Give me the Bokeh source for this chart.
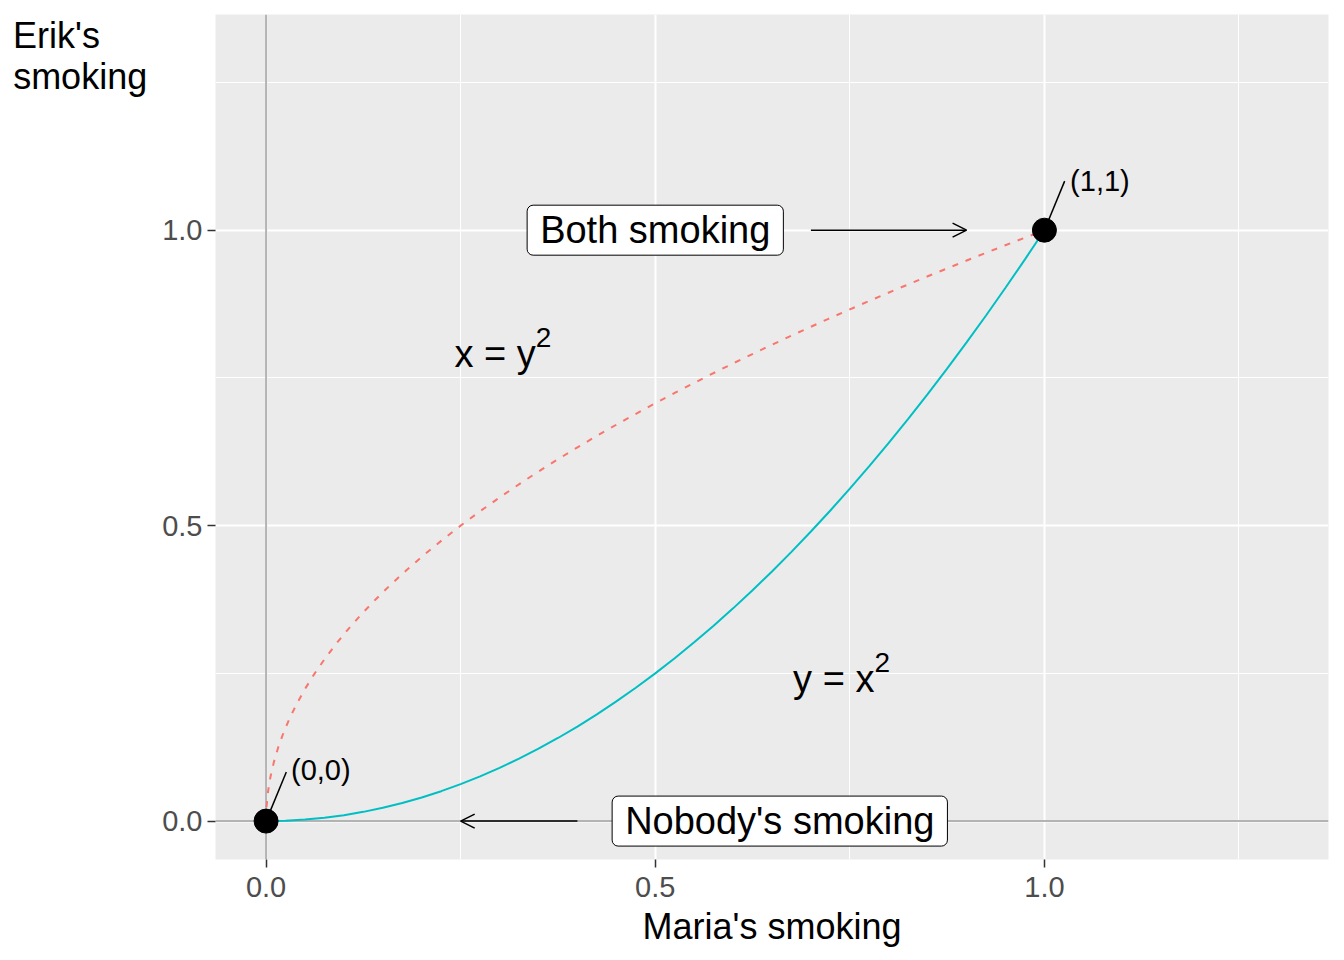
from bokeh.plotting import figure
from bokeh.models import (Range1d, FixedTicker, PrintfTickFormatter, Span, Label,
                          Arrow, OpenHead)
from bokeh.embed import file_html
from bokeh.resources import INLINE

FONT = "Liberation Sans"
CYAN = "#00BFC4"
RED = "#F8766D"

# values (t and t squared)
t_vals = [0.0, 0.025, 0.05, 0.075, 0.1, 0.125, 0.15, 0.175, 0.2, 0.225, 0.25,
          0.275, 0.3, 0.325, 0.35, 0.375, 0.4, 0.425, 0.45, 0.475, 0.5,
          0.525, 0.55, 0.575, 0.6, 0.625, 0.65, 0.675, 0.7, 0.725, 0.75,
          0.775, 0.8, 0.825, 0.85, 0.875, 0.9, 0.925, 0.95, 0.975, 1.0]
t_sq = [0.0, 0.000625, 0.0025, 0.005625, 0.01, 0.015625, 0.0225, 0.030625, 0.04,
        0.050625, 0.0625, 0.075625, 0.09, 0.105625, 0.1225, 0.140625, 0.16,
        0.180625, 0.2025, 0.225625, 0.25, 0.275625, 0.3025, 0.330625, 0.36,
        0.390625, 0.4225, 0.455625, 0.49, 0.525625, 0.5625, 0.600625, 0.64,
        0.680625, 0.7225, 0.765625, 0.81, 0.855625, 0.9025, 0.950625, 1.0]

# the two marked points and their repelled labels
pt_x = [0, 1]
pt_y = [0, 1]
pt_text = ["(0,0)", "(1,1)"]
pt_lab_x = [0.032, 1.033]
pt_lab_y = [0.086, 1.084]
pt_seg_x = [0.026, 1.026]
pt_seg_y = [0.083, 1.083]

# boxed labels and their arrows
box_text = ["Both smoking", "Nobody's smoking"]
box_x = [0.5, 0.66]
box_y = [1.0, 0.0]
arrow_x0 = [0.7, 0.4]
arrow_x1 = [0.9, 0.25]
arrow_y = [1.0, 0.0]

# curve formulas (base, superscript) and where they sit
eq_base = ["x = y", "y = x"]
eq_sup = ["2", "2"]
eq_x = [0.308, 0.743]
eq_y = [0.79, 0.24]

ticks = [0.0, 0.5, 1.0]
minor = [0.25, 0.75, 1.25]

p = figure(width=1336, height=952, output_backend="svg", toolbar_location=None,
           x_range=Range1d(-0.065, 1.365), y_range=Range1d(-0.065, 1.365),
           min_border_left=215, min_border_right=8, min_border_top=14,
           min_border_bottom=93)
p.background_fill_color = "#EBEBEB"
p.border_fill_color = "white"
p.outline_line_color = None

xt = FixedTicker(ticks=ticks, minor_ticks=minor)
yt = FixedTicker(ticks=ticks, minor_ticks=minor)
p.xaxis.ticker = xt
p.yaxis.ticker = yt
p.xgrid.ticker = xt
p.ygrid.ticker = yt
for g in (p.xgrid, p.ygrid):
    g.grid_line_color = "white"
    g.grid_line_width = 2
    g.minor_grid_line_color = "white"
    g.minor_grid_line_width = 1

for ax in (p.xaxis, p.yaxis):
    ax.formatter = PrintfTickFormatter(format="%.1f")
    ax.axis_line_color = None
    ax.minor_tick_line_color = None
    ax.major_tick_line_color = "#333333"
    ax.major_tick_line_width = 1.5
    ax.major_tick_in = 0
    ax.major_tick_out = 8
    ax.major_label_text_font = FONT
    ax.major_label_text_font_size = "29px"
    ax.major_label_text_color = "#4D4D4D"
    ax.major_label_standoff = 5
    ax.axis_label_text_font = FONT
    ax.axis_label_text_font_size = "36px"
    ax.axis_label_text_font_style = "normal"
    ax.axis_label_text_color = "black"
p.xaxis.major_label_standoff = 9

p.xaxis.axis_label = "Maria's smoking"
p.xaxis.axis_label_standoff = 6

# y title: horizontal, two lines, up at the top of the axis; the label is
# centred on the frame top, so two empty lines push the text down below it,
# and the lines come out right aligned, so "Erik's" is padded to the left edge
yax = p.yaxis[0]
yax.axis_label = "\n\nErik's\u00a0\u00a0\u00a0\u00a0\u2009\nsmoking"
yax.axis_label_orientation = "horizontal"
yax.axis_label_standoff = 12
yax.axis_label_text_align = "left"
yax.axis_label_text_line_height = 1.0
if "axis_label_align" in yax.properties():
    yax.axis_label_align = "end"

# zero lines
p.add_layout(Span(location=0, dimension="height", line_color="#B3B3B3",
                  line_width=2, level="underlay"))
p.add_layout(Span(location=0, dimension="width", line_color="#B3B3B3",
                  line_width=2, level="underlay"))

p.line(t_vals, t_sq, line_color=CYAN, line_width=2)
p.line(t_sq, t_vals, line_color=RED, line_width=2, line_dash="6 8")

p.segment(pt_x, pt_y, pt_seg_x, pt_seg_y, line_color="black", line_width=1.5)
p.scatter(pt_x, pt_y, size=24, color="black")
for tx, lx, ly in zip(pt_text, pt_lab_x, pt_lab_y):
    p.add_layout(Label(x=lx, y=ly, text=tx, text_font=FONT, text_font_size="29px",
                       text_align="left", text_baseline="middle", text_color="black"))

for x0, x1, ay in zip(arrow_x0, arrow_x1, arrow_y):
    p.add_layout(Arrow(x_start=x0, y_start=ay, x_end=x1, y_end=ay,
                       line_color="black", line_width=1.5,
                       end=OpenHead(size=14, line_color="black", line_width=1.5)))

for tx, bx, by in zip(box_text, box_x, box_y):
    p.add_layout(Label(x=bx, y=by, text=tx, text_font=FONT, text_font_size="38px",
                       text_align="center", text_baseline="middle", text_color="black",
                       background_fill_color="white", border_line_color="black",
                       border_line_width=1, padding=(13, 13, 4, 4), border_radius=6))

for base, sup, ex, ey in zip(eq_base, eq_sup, eq_x, eq_y):
    p.add_layout(Label(x=ex, y=ey, text=base, text_font=FONT, text_font_size="38px",
                       text_align="right", text_baseline="middle", x_offset=30,
                       text_color="black"))
    p.add_layout(Label(x=ex, y=ey, text=sup, text_font=FONT, text_font_size="28px",
                       text_align="left", text_baseline="middle", x_offset=30,
                       y_offset=17, text_color="black"))

open("out.html", "w").write(file_html(p, INLINE))
